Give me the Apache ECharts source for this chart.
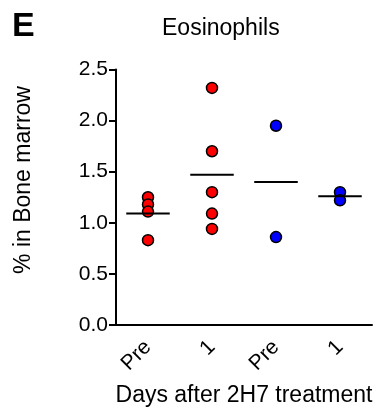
<!DOCTYPE html>
<html>
<head>
<meta charset="utf-8">
<script src="https://cdn.jsdelivr.net/npm/echarts@6/dist/echarts.min.js"></script>
<style>
  html, body { margin: 0; padding: 0; background: #fff; }
  #chart { width: 377px; height: 408px; }
</style>
</head>
<body>
<div id="chart"></div>
<script>
// categories on the x axis
const categories = ['Pre', '1', 'Pre', '1']
// individual values per group (% in bone marrow)
const preRed = [1.25, 1.18, 1.11, 0.83]
const day1Red = [2.32, 1.70, 1.30, 1.09, 0.94]
const preBlue = [1.95, 0.86]
const day1Blue = [1.30, 1.22]
// horizontal bar per group
const groupLines = [1.09, 1.47, 1.40, 1.26]
const yTicks = [0, 0.5, 1.0, 1.5, 2.0, 2.5]

const font = '"Liberation Sans", Arial, Helvetica, sans-serif'

const toPoints = (idx, values) => values.map(v => [idx, v])

const chart = echarts.init(document.getElementById('chart'))

const dotStyle = color => ({
  color: color,
  borderColor: '#000',
  borderWidth: 1.5,
  opacity: 1
})

chart.setOption({
  animation: false,
  title: {
    text: 'Eosinophils',
    left: 162,
    top: 17,
    padding: 0,
    textStyle: { fontFamily: font, fontSize: 23, fontWeight: 'normal', color: '#000' }
  },
  graphic: [
    {
      type: 'text',
      left: 12,
      top: 10,
      style: { text: 'E', fontFamily: font, fontSize: 34, fontWeight: 'bold', fill: '#000' }
    },
    {
      type: 'text',
      x: 24,
      y: 180,
      rotation: Math.PI / 2,
      style: {
        text: '% in Bone marrow',
        fontFamily: font,
        fontSize: 23,
        fill: '#000',
        align: 'center',
        verticalAlign: 'middle'
      }
    }
  ],
  grid: { left: 116, right: 5, top: 69.5, bottom: 83, outerBoundsMode: 'none', containLabel: false },
  xAxis: {
    type: 'category',
    data: categories,
    boundaryGap: true,
    name: 'Days after 2H7 treatment',
    nameLocation: 'middle',
    nameGap: 59,
    nameTextStyle: { fontFamily: font, fontSize: 23, color: '#000' },
    axisLine: { lineStyle: { color: '#000', width: 2 } },
    axisTick: { alignWithLabel: true, length: 6, lineStyle: { color: '#000', width: 2 } },
    axisLabel: { rotate: 45, margin: 19, fontFamily: font, fontSize: 21, color: '#000' }
  },
  yAxis: {
    type: 'value',
    min: yTicks[0],
    max: yTicks[yTicks.length - 1],
    interval: 0.5,
    splitLine: { show: false },
    axisLine: { show: true, lineStyle: { color: '#000', width: 2 } },
    axisTick: { show: true, length: 7, lineStyle: { color: '#000', width: 2 } },
    axisLabel: {
      margin: 8,
      fontFamily: font,
      fontSize: 21,
      color: '#000',
      formatter: v => v.toFixed(1)
    }
  },
  series: [
    { type: 'scatter', symbolSize: 11, data: toPoints(0, preRed), itemStyle: dotStyle('#ff0000') },
    { type: 'scatter', symbolSize: 11, data: toPoints(1, day1Red), itemStyle: dotStyle('#ff0000') },
    { type: 'scatter', symbolSize: 11, data: toPoints(2, preBlue), itemStyle: dotStyle('#0000ff') },
    { type: 'scatter', symbolSize: 11, data: toPoints(3, day1Blue), itemStyle: dotStyle('#0000ff') },
    {
      type: 'custom',
      z: 5,
      data: groupLines.map((v, i) => [i, v]),
      renderItem: (params, api) => {
        const c = api.coord([api.value(0), api.value(1)])
        const half = api.size([1, 0])[0] * 0.34
        return {
          type: 'line',
          shape: { x1: c[0] - half, y1: c[1], x2: c[0] + half, y2: c[1] },
          style: { stroke: '#000', lineWidth: 2 }
        }
      }
    }
  ]
})
</script>
</body>
</html>
